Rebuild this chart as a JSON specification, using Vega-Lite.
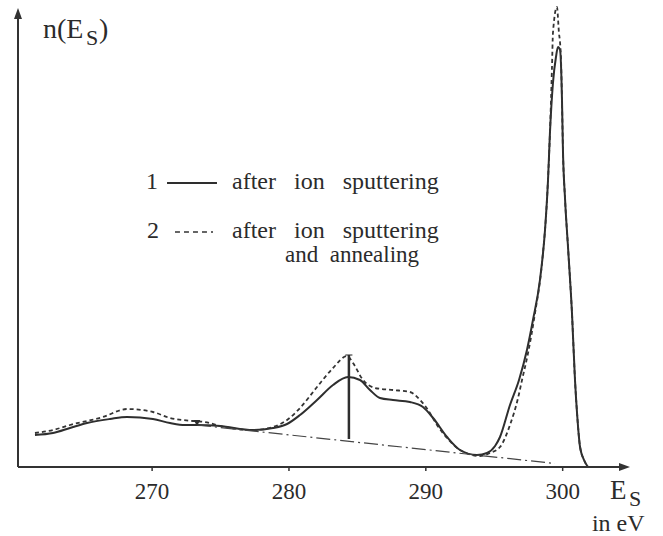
{
  "$schema": "https://vega.github.io/schema/vega-lite/v6.json",
  "width": 612,
  "height": 459,
  "autosize": "none",
  "padding": {"left": 18, "top": 8, "right": 33, "bottom": 69},
  "background": "white",
  "view": {"stroke": null},
  "config": {"font": "Liberation Serif"},
  "datasets": {
    "spectra": [
      {"E": 261.44, "n": 32, "series": "1"},
      {"E": 262.76, "n": 34, "series": "1"},
      {"E": 264.0, "n": 39, "series": "1"},
      {"E": 265.24, "n": 44, "series": "1"},
      {"E": 266.92, "n": 48, "series": "1"},
      {"E": 268.17, "n": 50, "series": "1"},
      {"E": 270.06, "n": 48, "series": "1"},
      {"E": 271.31, "n": 44, "series": "1"},
      {"E": 272.4, "n": 42, "series": "1"},
      {"E": 273.28, "n": 42, "series": "1"},
      {"E": 274.96, "n": 41, "series": "1"},
      {"E": 277.37, "n": 37, "series": "1"},
      {"E": 278.83, "n": 39, "series": "1"},
      {"E": 279.86, "n": 43, "series": "1"},
      {"E": 280.81, "n": 52, "series": "1"},
      {"E": 282.05, "n": 67, "series": "1"},
      {"E": 283.22, "n": 82, "series": "1"},
      {"E": 284.31, "n": 90, "series": "1"},
      {"E": 285.19, "n": 87, "series": "1"},
      {"E": 285.92, "n": 77, "series": "1"},
      {"E": 286.65, "n": 69, "series": "1"},
      {"E": 287.6, "n": 67, "series": "1"},
      {"E": 288.84, "n": 65, "series": "1"},
      {"E": 289.79, "n": 60, "series": "1"},
      {"E": 290.53, "n": 49, "series": "1"},
      {"E": 291.55, "n": 30, "series": "1"},
      {"E": 292.5, "n": 17, "series": "1"},
      {"E": 293.74, "n": 12, "series": "1"},
      {"E": 294.47, "n": 14, "series": "1"},
      {"E": 295.06, "n": 21, "series": "1"},
      {"E": 295.42, "n": 30, "series": "1"},
      {"E": 296.15, "n": 62, "series": "1"},
      {"E": 296.81, "n": 87, "series": "1"},
      {"E": 297.39, "n": 117, "series": "1"},
      {"E": 297.83, "n": 147, "series": "1"},
      {"E": 298.34, "n": 187, "series": "1"},
      {"E": 298.71, "n": 237, "series": "1"},
      {"E": 298.93, "n": 287, "series": "1"},
      {"E": 299.07, "n": 334, "series": "1"},
      {"E": 299.29, "n": 384, "series": "1"},
      {"E": 299.51, "n": 410, "series": "1"},
      {"E": 299.66, "n": 420, "series": "1"},
      {"E": 299.81, "n": 417, "series": "1"},
      {"E": 299.95, "n": 367, "series": "1"},
      {"E": 300.02, "n": 317, "series": "1"},
      {"E": 300.17, "n": 269, "series": "1"},
      {"E": 300.39, "n": 220, "series": "1"},
      {"E": 300.68, "n": 154, "series": "1"},
      {"E": 300.9, "n": 87, "series": "1"},
      {"E": 301.05, "n": 54, "series": "1"},
      {"E": 301.27, "n": 20, "series": "1"},
      {"E": 301.56, "n": 7, "series": "1"},
      {"E": 301.85, "n": 0, "series": "1"},
      {"E": 261.44, "n": 34, "series": "2"},
      {"E": 262.76, "n": 37, "series": "2"},
      {"E": 264.0, "n": 42, "series": "2"},
      {"E": 266.41, "n": 50, "series": "2"},
      {"E": 268.17, "n": 58, "series": "2"},
      {"E": 270.06, "n": 55, "series": "2"},
      {"E": 271.31, "n": 49, "series": "2"},
      {"E": 272.99, "n": 46, "series": "2"},
      {"E": 273.86, "n": 45, "series": "2"},
      {"E": 274.96, "n": 41, "series": "2"},
      {"E": 277.37, "n": 37, "series": "2"},
      {"E": 278.83, "n": 40, "series": "2"},
      {"E": 279.86, "n": 47, "series": "2"},
      {"E": 280.81, "n": 59, "series": "2"},
      {"E": 282.05, "n": 80, "series": "2"},
      {"E": 283.22, "n": 99, "series": "2"},
      {"E": 284.24, "n": 111, "series": "2"},
      {"E": 284.68, "n": 104, "series": "2"},
      {"E": 285.41, "n": 87, "series": "2"},
      {"E": 286.29, "n": 79, "series": "2"},
      {"E": 287.6, "n": 77, "series": "2"},
      {"E": 288.84, "n": 75, "series": "2"},
      {"E": 289.58, "n": 67, "series": "2"},
      {"E": 290.16, "n": 57, "series": "2"},
      {"E": 290.82, "n": 42, "series": "2"},
      {"E": 291.55, "n": 29, "series": "2"},
      {"E": 292.5, "n": 17, "series": "2"},
      {"E": 293.96, "n": 11, "series": "2"},
      {"E": 294.69, "n": 14, "series": "2"},
      {"E": 295.42, "n": 20, "series": "2"},
      {"E": 296.15, "n": 42, "series": "2"},
      {"E": 296.74, "n": 69, "series": "2"},
      {"E": 297.03, "n": 87, "series": "2"},
      {"E": 297.47, "n": 114, "series": "2"},
      {"E": 297.98, "n": 154, "series": "2"},
      {"E": 298.49, "n": 204, "series": "2"},
      {"E": 298.86, "n": 269, "series": "2"},
      {"E": 299.07, "n": 334, "series": "2"},
      {"E": 299.22, "n": 400, "series": "2"},
      {"E": 299.29, "n": 434, "series": "2"},
      {"E": 299.58, "n": 460, "series": "2"},
      {"E": 299.73, "n": 434, "series": "2"},
      {"E": 299.81, "n": 424, "series": "2"},
      {"E": 299.88, "n": 407, "series": "2"},
      {"E": 299.95, "n": 367, "series": "2"},
      {"E": 300.02, "n": 317, "series": "2"},
      {"E": 300.17, "n": 269, "series": "2"},
      {"E": 300.39, "n": 220, "series": "2"},
      {"E": 300.68, "n": 154, "series": "2"},
      {"E": 300.9, "n": 87, "series": "2"},
      {"E": 301.05, "n": 54, "series": "2"},
      {"E": 301.27, "n": 20, "series": "2"},
      {"E": 301.56, "n": 7, "series": "2"},
      {"E": 301.85, "n": 0, "series": "2"}
    ],
    "ticks": [
      {"E": 270, "label": "270"},
      {"E": 280, "label": "280"},
      {"E": 290, "label": "290"},
      {"E": 300, "label": "300"}
    ],
    "background_line": [
      {"E": 273.28, "n": 42},
      {"E": 299.44, "n": 3.5}
    ],
    "peak_marker": [
      {"E": 284.38, "low": 28, "high": 112}
    ],
    "start_marker": [
      {"E": 273.28, "n": 44}
    ]
  },
  "layer": [
    {
      "data": {"name": "spectra"},
      "transform": [{"filter": "datum.series === '1'"}],
      "mark": {"type": "line", "color": "#2e2e2e", "strokeWidth": 2, "interpolate": "monotone"},
      "encoding": {
        "x": {"field": "E", "type": "quantitative", "axis": null,
              "scale": {"domain": [260.2, 304.92], "nice": false, "zero": false}},
        "y": {"field": "n", "type": "quantitative", "axis": null,
              "scale": {"domain": [0, 459], "nice": false, "zero": false}}
      }
    },
    {
      "data": {"name": "spectra"},
      "transform": [{"filter": "datum.series === '2'"}],
      "mark": {"type": "line", "color": "#333", "strokeWidth": 1.8, "strokeDash": [4, 3], "interpolate": "monotone"},
      "encoding": {
        "x": {"field": "E", "type": "quantitative", "axis": null},
        "y": {"field": "n", "type": "quantitative", "axis": null}
      }
    },
    {
      "data": {"name": "background_line"},
      "mark": {"type": "line", "color": "#444", "strokeWidth": 1.2, "strokeDash": [14, 4, 2, 4]},
      "encoding": {
        "x": {"field": "E", "type": "quantitative", "axis": null},
        "y": {"field": "n", "type": "quantitative", "axis": null}
      }
    },
    {
      "data": {"name": "peak_marker"},
      "mark": {"type": "rule", "color": "#2e2e2e", "strokeWidth": 2.5},
      "encoding": {
        "x": {"field": "E", "type": "quantitative", "axis": null},
        "y": {"field": "low", "type": "quantitative", "axis": null},
        "y2": {"field": "high"}
      }
    },
    {
      "data": {"name": "peak_marker"},
      "mark": {"type": "tick", "color": "#2e2e2e", "thickness": 1.5, "size": 7, "orient": "horizontal"},
      "encoding": {
        "x": {"field": "E", "type": "quantitative", "axis": null},
        "y": {"field": "high", "type": "quantitative", "axis": null}
      }
    },
    {
      "data": {"name": "start_marker"},
      "mark": {"type": "point", "shape": "triangle-down", "size": 45, "filled": true, "color": "#2e2e2e", "opacity": 1},
      "encoding": {
        "x": {"field": "E", "type": "quantitative", "axis": null},
        "y": {"field": "n", "type": "quantitative", "axis": null}
      }
    },
    {
      "data": {"values": [{"axis": "E"}]},
      "mark": {"type": "rule", "color": "#333", "strokeWidth": 2},
      "encoding": {
        "x": {"datum": 260.2, "type": "quantitative", "axis": null},
        "x2": {"datum": 304.6},
        "y": {"datum": 0, "type": "quantitative", "axis": null}
      }
    },
    {
      "data": {"values": [{"axis": "n"}]},
      "mark": {"type": "rule", "color": "#333", "strokeWidth": 2},
      "encoding": {
        "x": {"datum": 260.2, "type": "quantitative", "axis": null},
        "y": {"datum": 0, "type": "quantitative", "axis": null},
        "y2": {"datum": 455}
      }
    },
    {
      "data": {"name": "ticks"},
      "mark": {"type": "rule", "color": "#333", "strokeWidth": 1.5},
      "encoding": {
        "x": {"field": "E", "type": "quantitative", "axis": null},
        "y": {"datum": 1, "type": "quantitative", "axis": null},
        "y2": {"datum": -4}
      }
    },
    {
      "data": {"name": "ticks"},
      "mark": {"type": "text", "align": "center", "baseline": "alphabetic", "font": "Liberation Serif", "fontSize": 23, "color": "#2b2b2b"},
      "encoding": {
        "x": {"field": "E", "type": "quantitative", "axis": null},
        "y": {"datum": -32, "type": "quantitative", "axis": null},
        "text": {"field": "label"}
      }
    },
    {
      "data": {"values": [{"axis": "n"}]},
      "mark": {"type": "point", "shape": "M0,0L-0.8,2.2L0.8,2.2Z", "size": 100, "filled": true, "color": "#333", "opacity": 1},
      "encoding": {
        "x": {"datum": 260.2, "type": "quantitative", "axis": null},
        "y": {"datum": 459, "type": "quantitative", "axis": null}
      }
    },
    {
      "data": {"values": [{"axis": "E"}]},
      "mark": {"type": "point", "shape": "M0,0L-2.2,-0.8L-2.2,0.8Z", "size": 100, "filled": true, "color": "#333", "opacity": 1},
      "encoding": {
        "x": {"datum": 304.92, "type": "quantitative", "axis": null},
        "y": {"datum": 0, "type": "quantitative", "axis": null}
      }
    },
    {
      "data": {"values": [{"series": "1"}]},
      "mark": {"type": "rule", "color": "#2e2e2e", "strokeWidth": 1.8},
      "encoding": {
        "x": {"datum": 271.09, "type": "quantitative", "axis": null},
        "x2": {"datum": 274.74},
        "y": {"datum": 284, "type": "quantitative", "axis": null}
      }
    },
    {
      "data": {"values": [{"series": "2"}]},
      "mark": {"type": "rule", "color": "#333", "strokeWidth": 1.6, "strokeDash": [5, 4]},
      "encoding": {
        "x": {"datum": 271.67, "type": "quantitative", "axis": null},
        "x2": {"datum": 274.45},
        "y": {"datum": 235, "type": "quantitative", "axis": null}
      }
    },
    {
      "data": {"values": [{"label": "1"}]},
      "mark": {"type": "text", "align": "left", "baseline": "alphabetic", "font": "Liberation Serif", "fontSize": 24, "color": "#2b2b2b"},
      "encoding": {
        "x": {"datum": 269.55, "type": "quantitative", "axis": null},
        "y": {"datum": 278, "type": "quantitative", "axis": null},
        "text": {"field": "label"}
      }
    },
    {
      "data": {"values": [{"label": "2"}]},
      "mark": {"type": "text", "align": "left", "baseline": "alphabetic", "font": "Liberation Serif", "fontSize": 24, "color": "#2b2b2b"},
      "encoding": {
        "x": {"datum": 269.63, "type": "quantitative", "axis": null},
        "y": {"datum": 229, "type": "quantitative", "axis": null},
        "text": {"field": "label"}
      }
    },
    {
      "data": {"values": [{"label": "after\u00a0\u00a0\u00a0ion\u00a0\u00a0\u00a0sputtering"}]},
      "mark": {"type": "text", "align": "left", "baseline": "alphabetic", "font": "Liberation Serif", "fontSize": 24, "color": "#2b2b2b"},
      "encoding": {
        "x": {"datum": 275.84, "type": "quantitative", "axis": null},
        "y": {"datum": 278, "type": "quantitative", "axis": null},
        "text": {"field": "label"}
      }
    },
    {
      "data": {"values": [{"label": "after\u00a0\u00a0\u00a0ion\u00a0\u00a0\u00a0sputtering"}]},
      "mark": {"type": "text", "align": "left", "baseline": "alphabetic", "font": "Liberation Serif", "fontSize": 24, "color": "#2b2b2b"},
      "encoding": {
        "x": {"datum": 275.84, "type": "quantitative", "axis": null},
        "y": {"datum": 229, "type": "quantitative", "axis": null},
        "text": {"field": "label"}
      }
    },
    {
      "data": {"values": [{"label": "and\u00a0\u00a0annealing"}]},
      "mark": {"type": "text", "align": "left", "baseline": "alphabetic", "font": "Liberation Serif", "fontSize": 23, "color": "#2b2b2b"},
      "encoding": {
        "x": {"datum": 279.71, "type": "quantitative", "axis": null},
        "y": {"datum": 205, "type": "quantitative", "axis": null},
        "text": {"field": "label"}
      }
    },
    {
      "data": {"values": [{"label": "n(E"}]},
      "mark": {"type": "text", "align": "left", "baseline": "alphabetic", "font": "Liberation Serif", "fontSize": 28, "color": "#2b2b2b"},
      "encoding": {
        "x": {"datum": 262.03, "type": "quantitative", "axis": null},
        "y": {"datum": 429, "type": "quantitative", "axis": null},
        "text": {"field": "label"}
      }
    },
    {
      "data": {"values": [{"label": "S"}]},
      "mark": {"type": "text", "align": "left", "baseline": "alphabetic", "font": "Liberation Serif", "fontSize": 22, "color": "#2b2b2b"},
      "encoding": {
        "x": {"datum": 265.17, "type": "quantitative", "axis": null},
        "y": {"datum": 422, "type": "quantitative", "axis": null},
        "text": {"field": "label"}
      }
    },
    {
      "data": {"values": [{"label": ")"}]},
      "mark": {"type": "text", "align": "left", "baseline": "alphabetic", "font": "Liberation Serif", "fontSize": 28, "color": "#2b2b2b"},
      "encoding": {
        "x": {"datum": 266.12, "type": "quantitative", "axis": null},
        "y": {"datum": 429, "type": "quantitative", "axis": null},
        "text": {"field": "label"}
      }
    },
    {
      "data": {"values": [{"label": "E"}]},
      "mark": {"type": "text", "align": "left", "baseline": "alphabetic", "font": "Liberation Serif", "fontSize": 27, "color": "#2b2b2b"},
      "encoding": {
        "x": {"datum": 303.46, "type": "quantitative", "axis": null},
        "y": {"datum": -32, "type": "quantitative", "axis": null},
        "text": {"field": "label"}
      }
    },
    {
      "data": {"values": [{"label": "S"}]},
      "mark": {"type": "text", "align": "left", "baseline": "alphabetic", "font": "Liberation Serif", "fontSize": 22, "color": "#2b2b2b"},
      "encoding": {
        "x": {"datum": 304.85, "type": "quantitative", "axis": null},
        "y": {"datum": -39, "type": "quantitative", "axis": null},
        "text": {"field": "label"}
      }
    },
    {
      "data": {"values": [{"label": "in eV"}]},
      "mark": {"type": "text", "align": "left", "baseline": "alphabetic", "font": "Liberation Serif", "fontSize": 24, "color": "#2b2b2b"},
      "encoding": {
        "x": {"datum": 302.14, "type": "quantitative", "axis": null},
        "y": {"datum": -64, "type": "quantitative", "axis": null},
        "text": {"field": "label"}
      }
    }
  ]
}
